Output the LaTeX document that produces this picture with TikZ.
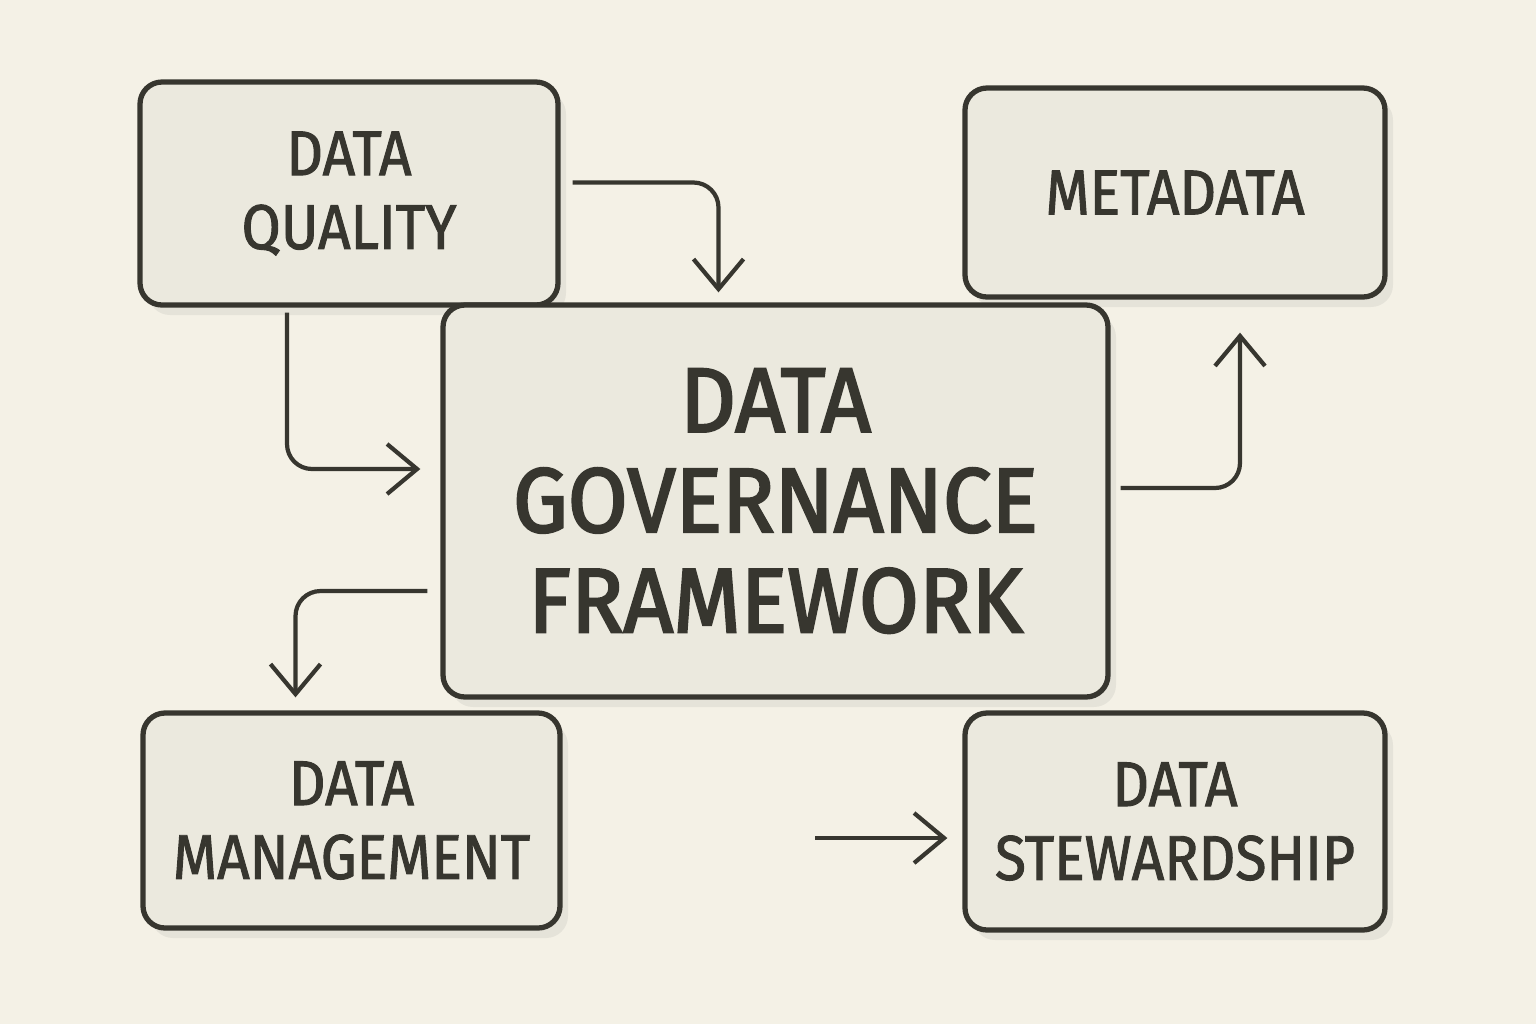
\documentclass[tikz,border=0pt]{standalone}
\usepackage{fontspec}
\setmainfont{Fira Sans}
\usepackage{tikz}
\usetikzlibrary{arrows.meta,shadows}
\definecolor{ink}{HTML}{37362F}
\definecolor{paper}{HTML}{F4F1E6}
\definecolor{boxfill}{HTML}{EBE9DE}
\newfontfamily\sketchfont[FakeStretch=0.9,FakeBold=1.5]{Fira Sans}
\newfontfamily\sketchbig[FakeStretch=0.95,FakeBold=2.5]{Fira Sans}
\begin{document}
\begin{tikzpicture}[x=1mm, y=1mm,
    box/.style={draw=ink, line width=1.5pt, rounded corners=0.22cm, fill=boxfill,
      drop shadow={opacity=0.12, shadow xshift=0.08cm, shadow yshift=-0.1cm},
      align=center, text=ink, inner sep=0pt, font=\sketchfont\fontsize{18}{21}\selectfont},
    bigbox/.style={box, font=\sketchbig\fontsize{26}{28.5}\selectfont},
    flow/.style={draw=ink, line width=1.2pt, rounded corners=0.25cm,
      -{Straight Barb[length=0.3cm,width=0.5cm,line width=1.2pt]}}]
              \fill [paper] (0,0) rectangle (153.6,-102.4);
              \useasboundingbox (0,0) rectangle (153.6,-102.4);
              % boxes
              \node [box, minimum width=4.18cm, minimum height=2.23cm] (dq) at (34.9,-19.35) {DATA\\QUALITY};
              \node [box, minimum width=4.2cm, minimum height=2.09cm] (md) at (117.5,-19.25) {METADATA};
              \node [bigbox, minimum width=6.65cm, minimum height=3.92cm] (gov) at (77.55,-50.1) {DATA\\GOVERNANCE\\FRAMEWORK};
              \node [box, minimum width=4.17cm, minimum height=2.15cm] (dm) at (35.15,-82.05) {DATA\\MANAGEMENT};
              \node [box, minimum width=4.2cm, minimum height=2.17cm] (ds) at (117.5,-82.15) {DATA\\STEWARDSHIP};
              % connectors
              \draw [flow] ([xshift=0.12cm,yshift=0.11cm]dq.east) -| ([xshift=-0.57cm,yshift=0.1cm]gov.north);
              \draw [flow] ([xshift=-0.62cm,yshift=-0.05cm]dq.south) |- ([xshift=-0.2cm,yshift=0.32cm]gov.west);
              \draw [flow] ([xshift=0.1cm,yshift=0.13cm]gov.east) -| ([xshift=0.65cm,yshift=-0.33cm]md.south);
              \draw [flow] ([xshift=-0.13cm,yshift=-0.9cm]gov.west) -| ([xshift=-0.56cm,yshift=0.13cm]dm.north);
              \coordinate (feed) at (81.5,-83.8);
              \draw [flow] (feed) -- ([xshift=-0.15cm]feed -| ds.west);
\end{tikzpicture}
\end{document}
